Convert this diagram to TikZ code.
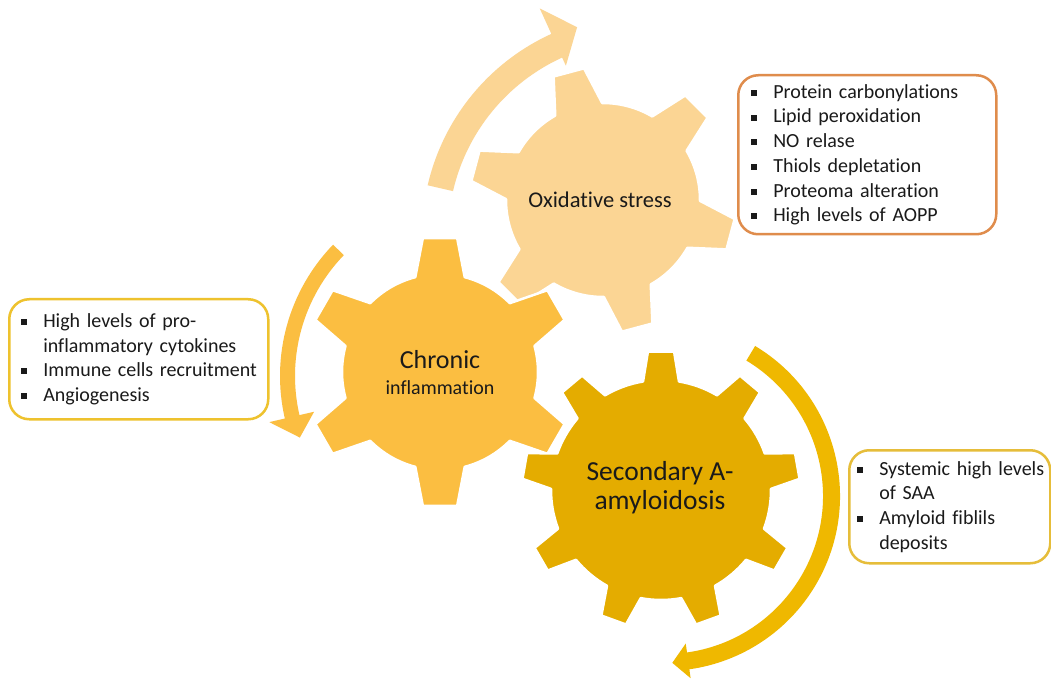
\documentclass[tikz,border=0pt]{standalone}
\usepackage{fontspec}
\setmainfont{Carlito}[Ligatures=NoCommon]
\definecolor{oxc}{HTML}{FBD594}
\definecolor{chc}{HTML}{FBBE41}
\definecolor{amc}{HTML}{E4AC00}
\definecolor{amarrow}{HTML}{EFB800}
\definecolor{oxb}{HTML}{DF8C4C}
\definecolor{chb}{HTML}{EEC22E}
\definecolor{amb}{HTML}{E6BD3A}
\definecolor{txt}{HTML}{1A1A1A}
\newcommand{\sqb}{\rule[0.12em]{0.3em}{0.3em}}
\newcommand{\itm}[1]{\makebox[22pt][l]{\sqb}\mbox{#1}}
\newcommand{\cnt}[1]{\hspace*{22pt}\mbox{#1}}
% gear: cx cy n theta0 Rin Rout alphaTip alphaBase colour
\newcommand{\drawgear}[9]{%
  \begin{scope}[shift={(#1,#2)}]
    \pgfmathsetmacro\gs{360/#3}
    \filldraw[fill=#9, draw=white, line width=2.5pt, line join=round]
      ({#4-#8}:#5)
      \foreach \k in {1,...,#3} {
        -- ({#4+(\k-1)*\gs-#7}:#6) -- ({#4+(\k-1)*\gs+#7}:#6)
        -- ({#4+(\k-1)*\gs+#8}:#5)
        arc[start angle={#4+(\k-1)*\gs+#8}, delta angle={\gs-2*#8}, radius=#5]
      } -- cycle;
  \end{scope}}
\tikzset{
  infobox/.style={draw, line width=2.5pt, rounded corners=20pt, fill=white,
    align=left, anchor=north west, text=txt, font=\fontsize{20}{24.7}\selectfont},
  gearlabel/.style={align=center, text=txt}
}
\begin{document}
\begin{tikzpicture}[x=1pt, y=1pt]
\useasboundingbox (0,0) rectangle (1051,678);
\fill[white] (0,0) rectangle (1051,678);

% top arrow (oxidative)
\begin{scope}[shift={(643,443)}]
  \fill[oxc] (167:221) arc[start angle=167, end angle=114.5, radius=221]
    -- (114.5:249) -- (107.6:218) -- (114.5:186) -- (114.5:195)
    arc[start angle=114.5, end angle=167, radius=195] -- cycle;
\end{scope}
% left arrow (chronic)
\begin{scope}[shift={(469,302)}]
  \fill[chc] (136:189) arc[start angle=136, end angle=193, radius=189]
    -- (193:205) -- (200:180) -- (193:159) -- (193:174)
    arc[start angle=193, end angle=136, radius=174] -- cycle;
\end{scope}
% right arrow (amyloidosis)
\begin{scope}[shift={(665,182)}]
  \fill[amarrow] (59:175) arc[start angle=59, end angle=-82, radius=175]
    -- (-82:184) -- (-87.5:167) -- (-82:149) -- (-82:158)
    arc[start angle=-82, end angle=59, radius=158] -- cycle;
\end{scope}

% gears
\drawgear{603}{478}{6}{105}{97}{133}{6.8}{14.5}{oxc}
\drawgear{440}{306}{6}{90}{98}{135}{7.3}{14.6}{chc}
\drawgear{661}{188}{9}{90}{110}{139}{5.4}{9.4}{amc}

\node[gearlabel, font=\fontsize{22.5}{27}\selectfont] (ox) at (600,478) {Oxidative stress};
\node[gearlabel, font=\fontsize{20}{26}\selectfont] (ch) at (440,305)
  {{\fontsize{26}{26}\selectfont Chronic}\\inflammation};
\node[gearlabel, font=\fontsize{27.5}{29}\selectfont] (am) at (660,190)
  {Secondary A-\\amyloidosis};

% info boxes
\node[infobox, draw=oxb, inner xsep=13pt, text width=232pt,
  minimum width=258pt, minimum height=159pt] (oxbox) at (737,604)
  {\itm{Protein carbonylations}\\\itm{Lipid peroxidation}\\\itm{NO relase}\\
   \itm{Thiols depletation}\\\itm{Proteoma alteration}\\\itm{High levels of AOPP}};
\node[infobox, draw=chb, inner xsep=12pt, text width=235pt,
  minimum width=259pt, minimum height=120pt] (chbox) at (8,380)
  {\itm{High levels of pro-}\\\cnt{inflammatory cytokines}\\
   \itm{Immune cells recruitment}\\\itm{Angiogenesis}};
\node[infobox, draw=amb, inner xsep=8pt, text width=185pt,
  minimum width=201pt, minimum height=113pt] (ambox) at (848,229)
  {\itm{Systemic high levels}\\\cnt{of SAA}\\\itm{Amyloid fiblils}\\\cnt{deposits}};
\end{tikzpicture}
\end{document}
